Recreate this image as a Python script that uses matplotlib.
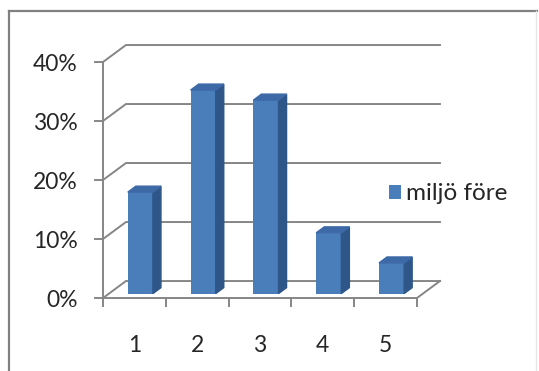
import numpy as np
import matplotlib
matplotlib.use("Agg")
import matplotlib.pyplot as plt
from matplotlib.patches import Polygon
from matplotlib.lines import Line2D

categories = ["1", "2", "3", "4", "5"]
values = [17.2, 34.5, 32.8, 10.3, 5.2]   # percent
series_name = "miljö före"
yticks = [0, 10, 20, 30, 40]

FRONT, SIDE, TOP = "#4A7EBB", "#2F5689", "#3D69A7"
GRID = "#868686"
DX, DY = 0.366, 2.88        # depth of the floor / back wall (data units)
F0, F1 = 0.26, 0.61         # bar front / back depth fractions
BW = 0.4                    # bar width

plt.rcParams["font.family"] = ["Lato", "DejaVu Sans"]
fig = plt.figure(figsize=(5.39, 3.71), dpi=100)
ax = fig.add_axes([0, 0, 1, 1])
ax.set_xlim(-1.140, 7.443)
ax.set_ylim(-12.37, 50.51)
ax.axis("off")

n = len(categories)
x0, x1 = 0.5, n + 0.5

# back wall gridlines and the diagonals joining them to the value axis
for v in yticks:
    ax.plot([x0, x0 + DX, x1 + DX], [v, v + DY, v + DY], color=GRID, lw=1.4,
            solid_joinstyle="miter")
    ax.plot([x0 - 0.127, x0], [v, v], color=GRID, lw=1.4)

# floor outline
ax.plot([x0, x1, x1 + DX], [0, 0, DY], color=GRID, lw=1.4)
ax.plot([x0, x0], [0, yticks[-1]], color=GRID, lw=1.4)
for i in range(n + 1):
    ax.plot([x0 + i, x0 + i], [0, -1.36], color=GRID, lw=1.4)

# bars: front faces through ax.bar, sides and tops as polygons
xs = np.arange(1, n + 1)
ax.bar(xs + F0 * DX, values, width=BW, bottom=F0 * DY, color=FRONT,
       label=series_name, zorder=3)
for xc, v in zip(xs, values):
    r = xc + BW / 2
    l = xc - BW / 2
    side = [(r + F0 * DX, F0 * DY), (r + F1 * DX, F1 * DY),
            (r + F1 * DX, v + F1 * DY), (r + F0 * DX, v + F0 * DY)]
    top = [(l + F0 * DX, v + F0 * DY), (r + F0 * DX, v + F0 * DY),
           (r + F1 * DX, v + F1 * DY), (l + F1 * DX, v + F1 * DY)]
    ax.add_patch(Polygon(side, closed=True, color=SIDE, zorder=3))
    ax.add_patch(Polygon(top, closed=True, color=TOP, zorder=3))

for v in yticks:
    ax.text(x0 - 0.40, v - 0.4, f"{v}%", ha="right", va="center",
            fontsize=16.5, color="#262626")
for xc, lab in zip(xs, categories):
    ax.text(xc, -7.97, lab, ha="center", va="center", fontsize=16.5,
            color="#262626")

ax.legend(loc="center left", bbox_to_anchor=(389 / 539, 1 - 194 / 371),
          bbox_transform=fig.transFigure, frameon=False, fontsize=17.5,
          handlelength=0.5, handleheight=0.5, handletextpad=0.2,
          borderpad=0, borderaxespad=0, labelcolor="#262626")

# chart frame
fig.add_artist(Line2D([9 / 539, 537 / 539], [1 - 11 / 371] * 2,
                      transform=fig.transFigure, color="#808080", lw=1.6))
fig.add_artist(Line2D([9 / 539] * 2, [0, 1 - 11 / 371],
                      transform=fig.transFigure, color="#808080", lw=1.6))
fig.add_artist(Line2D([536 / 539] * 2, [0, 1 - 11 / 371],
                      transform=fig.transFigure, color="#e6e6e6", lw=1.0))

fig.savefig("out.png", dpi=100)
